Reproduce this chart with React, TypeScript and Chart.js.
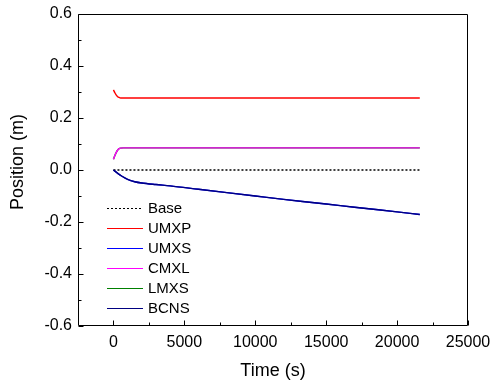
import React, { useEffect, useRef } from "react";
import { Chart, registerables } from "chart.js";

Chart.register(...registerables);

const FONT = "'Liberation Sans', Arial, Helvetica, sans-serif";

// Tick values
const xTickValues = [0, 5000, 10000, 15000, 20000, 25000];
const yTickValues = [-0.6, -0.4, -0.2, 0.0, 0.2, 0.4, 0.6];
const xMinorValues = [2500, 7500, 12500, 17500, 22500];
const yMinorValues = [-0.5, -0.3, -0.1, 0.1, 0.3, 0.5];

// Series names
const seriesNames = ["Base", "UMXP", "UMXS", "CMXL", "LMXS", "BCNS"];

// Time arrays (s)
const timeBase = [0, 21600];
const timeTop = [0, 100, 200, 300, 400, 500, 700, 21600];
const timeDrift = [0, 300, 600, 1000, 1500, 2000, 3000, 4000, 6000, 8000, 10000, 12000, 14000, 16000, 18000, 20000, 21600];

// Series values (m)
const baseValues = [0, 0];
const umxpValues = [0.308, 0.297, 0.288, 0.282, 0.279, 0.277, 0.277, 0.277];
const cmxlValues = [0.041, 0.056, 0.068, 0.077, 0.082, 0.084, 0.085, 0.085];
const lmxsValues = [0.041, 0.056, 0.068, 0.077, 0.082, 0.084, 0.085, 0.085];
const umxsValues = [0, -0.013, -0.024, -0.036, -0.045, -0.05, -0.056, -0.061, -0.074, -0.087, -0.1, -0.113, -0.125, -0.137, -0.149, -0.161, -0.171];
const bcnsValues = [0, -0.013, -0.024, -0.036, -0.045, -0.05, -0.056, -0.061, -0.074, -0.087, -0.1, -0.113, -0.125, -0.137, -0.149, -0.161, -0.171];

const seriesColors = ["#000000", "#ff0000", "#0000ff", "#ff00ff", "#008000", "#000080"];

const pts = (t: number[], v: number[]) => t.map((x, i) => ({ x, y: v[i] }));

const framePlugin = {
  id: "framePlugin",
  afterDraw(chart: any) {
    const { ctx, chartArea, scales } = chart;
    const { left, top, right, bottom } = chartArea;
    const xs = scales.x;
    const ys = scales.y;
    ctx.save();
    ctx.strokeStyle = "#000";
    ctx.lineWidth = 1;
    const L = Math.round(left) + 0.5;
    const R = Math.round(right) - 0.5;
    const T = Math.round(top) + 0.5;
    const B = Math.round(bottom) - 0.5;
    ctx.beginPath();
    ctx.rect(L, T, R - L, B - T);
    ctx.stroke();
    // inward ticks
    ctx.beginPath();
    xTickValues.forEach((v) => {
      const px = Math.round(xs.getPixelForValue(v)) + 0.5;
      ctx.moveTo(px, B);
      ctx.lineTo(px, B - 5);
    });
    xMinorValues.forEach((v) => {
      const px = Math.round(xs.getPixelForValue(v)) + 0.5;
      ctx.moveTo(px, B);
      ctx.lineTo(px, B - 3);
    });
    yTickValues.forEach((v) => {
      const py = Math.round(ys.getPixelForValue(v)) + 0.5;
      ctx.moveTo(L, py);
      ctx.lineTo(L + 5, py);
    });
    yMinorValues.forEach((v) => {
      const py = Math.round(ys.getPixelForValue(v)) + 0.5;
      ctx.moveTo(L, py);
      ctx.lineTo(L + 3, py);
    });
    ctx.stroke();

    // axis titles
    ctx.fillStyle = "#000";
    ctx.font = `18px ${FONT}`;
    ctx.textAlign = "center";
    ctx.textBaseline = "middle";
    ctx.fillText("Time (s)", (left + right) / 2, 371);
    ctx.save();
    ctx.translate(18, 162);
    ctx.rotate(-Math.PI / 2);
    ctx.fillText("Position (m)", 0, 0);
    ctx.restore();

    // legend
    ctx.font = `15px ${FONT}`;
    ctx.textAlign = "left";
    seriesNames.forEach((name, i) => {
      const yy = 208.5 + i * 20;
      ctx.beginPath();
      ctx.strokeStyle = seriesColors[i];
      ctx.lineWidth = 1.2;
      ctx.setLineDash(i === 0 ? [2, 2] : []);
      ctx.moveTo(107, yy);
      ctx.lineTo(143, yy);
      ctx.stroke();
      ctx.setLineDash([]);
      ctx.fillStyle = "#000";
      ctx.fillText(name, 148, yy + 0.5);
    });
    ctx.restore();
  },
};

export default function App() {
  const ref = useRef<HTMLCanvasElement | null>(null);
  useEffect(() => {
    if (!ref.current) return;
    const mk = (i: number, data: any[], order: number, dash: number[] = []) => ({
      label: seriesNames[i],
      data,
      borderColor: seriesColors[i],
      backgroundColor: seriesColors[i],
      borderWidth: 1.4,
      borderDash: dash,
      pointRadius: 0,
      fill: false,
      tension: 0.3,
      cubicInterpolationMode: "monotone" as const,
      order,
    });
    const chart = new Chart(ref.current, {
      type: "line",
      data: {
        datasets: [
          mk(0, pts(timeBase, baseValues), 1, [2, 2]),
          mk(1, pts(timeTop, umxpValues), 1),
          mk(2, pts(timeDrift, umxsValues), 2),
          mk(3, pts(timeTop, cmxlValues), 0),
          mk(4, pts(timeTop, lmxsValues), 2),
          mk(5, pts(timeDrift, bcnsValues), 0),
        ],
      },
      options: {
        animation: false,
        responsive: true,
        maintainAspectRatio: false,
        layout: { padding: { top: 14, right: 24, left: 0, bottom: 0 } },
        plugins: { legend: { display: false }, tooltip: { enabled: false } },
        scales: {
          x: {
            type: "linear",
            min: -2500,
            max: 25000,
            grid: { display: false, drawTicks: false },
            border: { display: false },
            afterBuildTicks: (s: any) => {
              s.ticks = xTickValues.map((v) => ({ value: v }));
            },
            afterFit: (s: any) => {
              s.height = 57;
              s.paddingLeft = 0;
              s.paddingRight = 0;
            },
            ticks: {
              padding: 7,
              color: "#000",
              font: { family: FONT, size: 16 },
              maxRotation: 0,
              callback: (v: any) => String(v),
            },
          },
          y: {
            type: "linear",
            min: -0.6,
            max: 0.6,
            grid: { display: false, drawTicks: false },
            border: { display: false },
            afterBuildTicks: (s: any) => {
              s.ticks = yTickValues.map((v) => ({ value: v }));
            },
            afterFit: (s: any) => {
              s.width = 78;
              s.paddingTop = 0;
              s.paddingBottom = 0;
            },
            ticks: {
              padding: 6,
              color: "#000",
              font: { family: FONT, size: 16 },
              callback: (v: any) => Number(v).toFixed(1),
            },
          },
        },
      },
      plugins: [framePlugin],
    });
    return () => chart.destroy();
  }, []);
  return (
    <div style={{ position: "fixed", left: 0, top: 0, width: 492, height: 383, background: "#fff" }}>
      <canvas ref={ref} />
    </div>
  );
}
